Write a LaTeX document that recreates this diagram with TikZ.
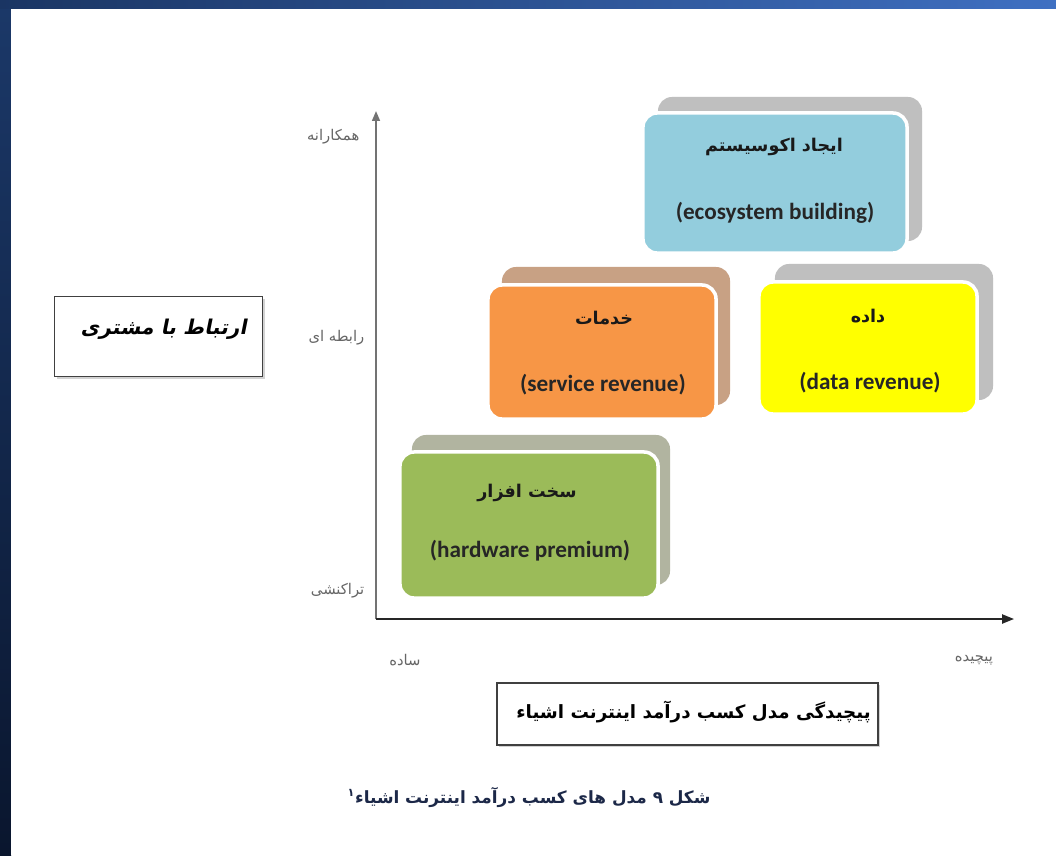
\documentclass[tikz,border=0pt]{standalone}
\usepackage{fontspec}
\setmainfont{Carlito}
\newfontfamily\fa[Script=Arabic]{DejaVu Sans}
\newfontfamily\faslant[Script=Arabic,FakeSlant=0.2]{DejaVu Sans}
\TeXXeTstate=1
\usetikzlibrary{arrows.meta,shadows}

\definecolor{navy}{HTML}{0E1F3E}
\definecolor{barL}{HTML}{1A3563}
\definecolor{barR}{HTML}{3F70C2}
\definecolor{stripT}{HTML}{1B3868}
\definecolor{stripB}{HTML}{0A162E}
\definecolor{ecoFill}{HTML}{93CDDD}
\definecolor{srvFill}{HTML}{F79646}
\definecolor{srvBack}{HTML}{C8A184}
\definecolor{datFill}{HTML}{FFFF00}
\definecolor{hwFill}{HTML}{9BBB59}
\definecolor{hwBack}{HTML}{B1B4A0}
\definecolor{greyBack}{HTML}{BFBFBF}
\definecolor{capInk}{HTML}{1C2848}

\tikzset{
  backbox/.style={rounded corners=10pt, inner sep=0pt},
  frontbox/.style={rounded corners=10pt, draw=white, line width=2.5pt, inner sep=0pt},
  fatitle/.style={font=\fa\bfseries\fontsize{12.5}{15}\selectfont, text=black!90, inner sep=1pt},
  entext/.style={font=\bfseries\fontsize{16.5}{19}\selectfont, text=black!85, inner sep=1pt},
  ticklabel/.style={font=\fa\fontsize{10.5}{12}\selectfont, text=black!60, inner sep=1pt},
  yaxis/.style={line width=1.3pt, draw=black!55, -{Triangle[length=7pt,width=5.5pt]}},
  xaxis/.style={line width=1.3pt, draw=black!85, -{Triangle[length=8.5pt,width=6.5pt]}},
  labelbox/.style={draw=black!75, line width=1.1pt, fill=white, inner sep=0pt,
    drop shadow={shadow xshift=1.5pt, shadow yshift=-1.5pt, opacity=0.35}},
}

\begin{document}
\begin{tikzpicture}[x=0.025cm, y=-0.025cm]
\useasboundingbox (0,0) rectangle (1056,855);

% slide background: dark frame, blue top bar, white page
\fill[navy] (0,0) rectangle (1056,855);
\shade[left color=barL, right color=barR] (0,0) rectangle (1056,9);
\shade[top color=stripT, bottom color=stripB] (0,9) rectangle (11,855);
\fill[white] (11,9) rectangle (1056,855);

% axes
\coordinate (O) at (376,619);
\coordinate (ytop) at (376,111);
\coordinate (xend) at (1014,619);
\draw[yaxis] (O) -- (ytop);
\draw[xaxis] (O) -- (xend);

% axis tick labels
\node[ticklabel, anchor=east] (yhigh) at (361,137) {\beginR همکارانه\endR};
\node[ticklabel, anchor=east] (ymid)  at (366,338) {\beginR رابطه ای\endR};
\node[ticklabel, anchor=east] (ylow)  at (366,591) {\beginR تراکنشی\endR};
\node[ticklabel] (xlow)  at (405,660) {\beginR ساده\endR};
\node[ticklabel] (xhigh) at (974,660) {\beginR پیچیده\endR};

% axis titles
\node[labelbox, minimum width=5.2cm, minimum height=2.0cm] (ytitle) at (158.5,336.5) {};
\node[font=\faslant\bfseries\fontsize{14.5}{17}\selectfont, anchor=east, inner sep=0pt] (ytitleText) at (247,329) {\beginR ارتباط با مشتری\endR};

\node[labelbox, minimum width=9.525cm, minimum height=1.55cm] (xtitle) at (687.5,714) {};
\node[font=\fa\bfseries\fontsize{13}{15}\selectfont, anchor=east, inner sep=0pt] (xtitleText) at (871,712) {\beginR پیچیدگی مدل کسب درآمد اینترنت اشیاء\endR};

% ecosystem building
\node[backbox, fill=greyBack, minimum width=6.6cm, minimum height=3.6cm] (ecoBack) at (790,169) {};
\node[frontbox, fill=ecoFill, minimum width=6.6cm, minimum height=3.5cm] (eco) at (775,183) {};
\node[fatitle] (ecoFa) at (774,147) {\beginR ایجاد اکوسیستم\endR};
\node[entext] (ecoEn) at (775,213) {(ecosystem building)};

% service revenue
\node[backbox, fill=srvBack, minimum width=5.7cm, minimum height=3.45cm] (srvBack) at (616,336) {};
\node[frontbox, fill=srvFill, minimum width=5.7cm, minimum height=3.35cm] (srv) at (602,352) {};
\node[fatitle] (srvFa) at (604,318) {\beginR خدمات\endR};
\node[entext] (srvEn) at (603,385) {(service revenue)};

% data revenue
\node[backbox, fill=greyBack, minimum width=5.45cm, minimum height=3.4cm] (datBack) at (884,332) {};
\node[frontbox, fill=datFill, minimum width=5.45cm, minimum height=3.3cm] (dat) at (868,348) {};
\node[fatitle] (datFa) at (868,316) {\beginR داده\endR};
\node[entext] (datEn) at (870,383) {(data revenue)};

% hardware premium
\node[backbox, fill=hwBack, minimum width=6.45cm, minimum height=3.75cm] (hwBack) at (541,510) {};
\node[frontbox, fill=hwFill, minimum width=6.45cm, minimum height=3.65cm] (hw) at (529,525) {};
\node[fatitle] (hwFa) at (527,493) {\beginR سخت افزار\endR};
\node[entext] (hwEn) at (530,551) {(hardware premium)};

% caption
\node[font=\fa\bfseries\fontsize{12}{14}\selectfont, text=capInk, inner sep=0pt] (caption) at (529,797)
  {\beginR شکل ۹ مدل های کسب درآمد اینترنت اشیاء\textsuperscript{۱}\endR};
\end{tikzpicture}
\end{document}
